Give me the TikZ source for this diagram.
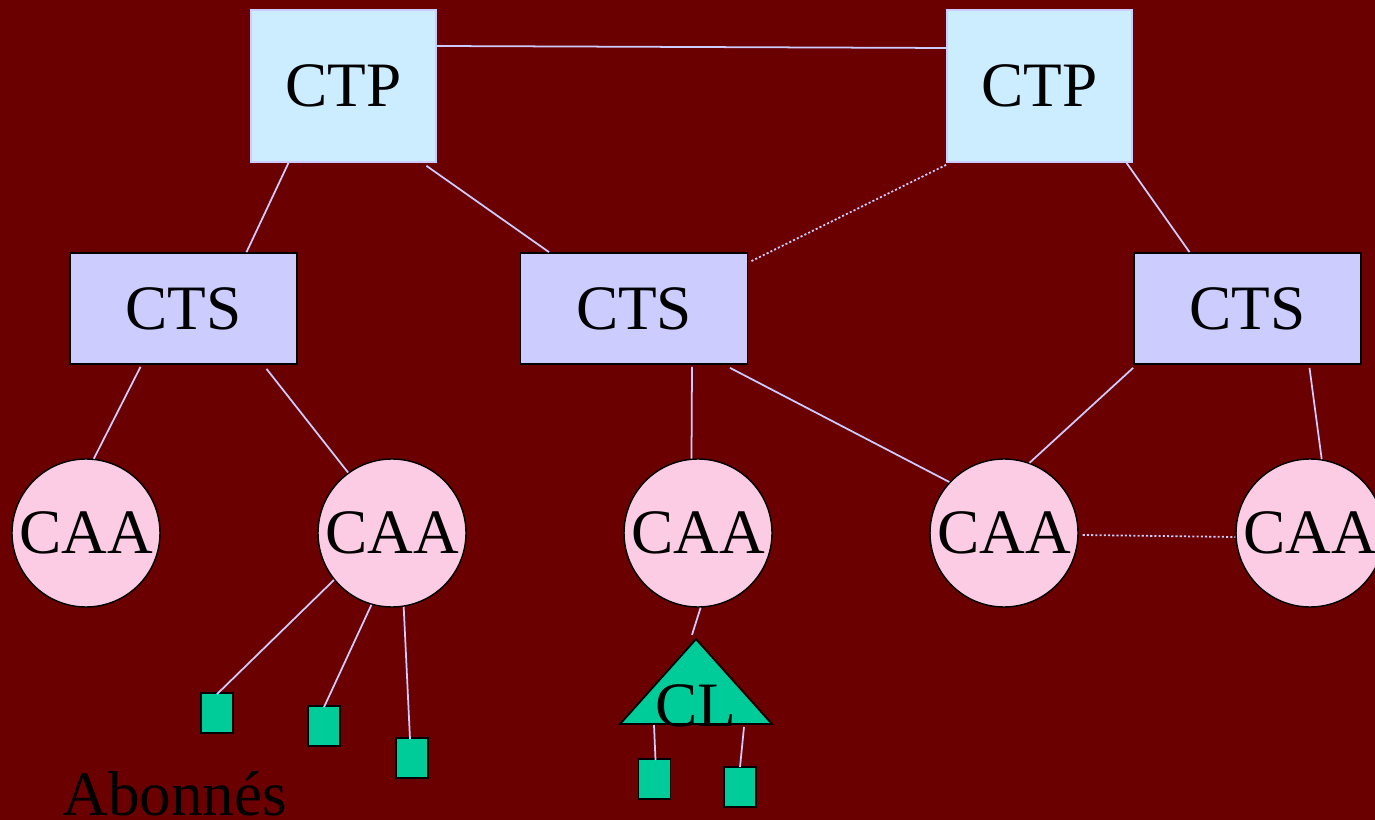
\documentclass[tikz,border=0pt]{standalone}
\usepackage{fontspec}
\setmainfont{Liberation Serif}
\usetikzlibrary{calc,shapes.geometric}
\definecolor{bgred}{RGB}{107,0,0}
\definecolor{ctpfill}{RGB}{204,236,255}
\definecolor{ctsfill}{RGB}{204,204,255}
\definecolor{caafill}{RGB}{252,204,228}
\definecolor{abgreen}{RGB}{0,204,153}
\definecolor{linkc}{RGB}{204,204,255}
\newcommand{\diagfont}{\fontsize{36}{40}\selectfont}

\begin{document}
\begin{tikzpicture}[x=0.02cm, y=-0.02cm,
    ctp/.style={draw=linkc, line width=1pt, fill=ctpfill, inner sep=0,
                minimum width=3.7cm, minimum height=3.04cm, font=\diagfont},
    cts/.style={draw=black, line width=1pt, fill=ctsfill, inner sep=0,
                minimum width=4.54cm, minimum height=2.22cm, font=\diagfont},
    caa/.style={circle, draw=black, line width=0.8pt, fill=caafill, inner sep=0,
                minimum size=2.96cm, font=\diagfont},
    abo/.style={draw=black, line width=1pt, fill=abgreen, inner sep=0,
                minimum width=0.64cm, minimum height=0.8cm},
    cltri/.style={isosceles triangle, isosceles triangle stretches,
                  shape border rotate=90, draw=black, line width=1pt, fill=abgreen,
                  inner sep=0, minimum width=3.04cm, minimum height=1.7cm},
    link/.style={draw=linkc, line width=1pt},
    dlink/.style={link, dash pattern=on 1.2pt off 1.2pt}
]
% background and page size
\fill[bgred] (0,0) rectangle (1375,820);
\useasboundingbox (0,0) rectangle (1375,820);

% Top level: CTP
\node[ctp] (CTP1) at (343.5,86) {CTP};
\node[ctp] (CTP2) at (1039.5,86) {CTP};

% Second level: CTS
\node[cts] (CTS1) at (183.5,308.5) {CTS};
\node[cts] (CTS2) at (634,308.5) {CTS};
\node[cts] (CTS3) at (1247.5,308.5) {CTS};

% Third level: CAA
\node[caa] (CAA1) at (86,533) {CAA};
\node[caa] (CAA2) at (392,533) {CAA};
\node[caa] (CAA3) at (698,533) {CAA};
\node[caa] (CAA4) at (1004,533) {CAA};
\node[caa] (CAA5) at (1310,533) {CAA};

% Concentrator CL
\node[cltri, anchor=south] (CL) at (696,725) {};
\node[font=\diagfont, anchor=base] (CLtext) at (696,726) {CL};

% Subscribers
\node[abo] (ab1) at (217,713) {};
\node[abo] (ab2) at (324,726) {};
\node[abo] (ab3) at (412,758) {};
\node[abo] (ab4) at (654.5,779) {};
\node[abo] (ab5) at (740,787) {};
\node[font=\diagfont, anchor=base west, inner sep=0] (Abo) at (62,815) {Abonnés};

% CTP links
\draw[link] ($(CTP1.east)+(0,-40)$) -- ($(CTP2.west)+(0,-38)$);
\draw[link] ($(CTP1.south)+(-55,0)$) -- ($(CTS1.north)+(63,0)$);
\draw[link] ($(CTP1.south)+(83,3)$) -- ($(CTS2.north)+(-85,0)$);
\draw[dlink] ($(CTP2.south west)+(0,2)$) -- ($(CTS2.north east)+(3,9)$);
\draw[link] ($(CTP2.south)+(87,0)$) -- ($(CTS3.north)+(-58,0)$);

% CTS links
\draw[link] ($(CTS1.south)+(-43,2)$) -- (CAA1.84);
\draw[link] ($(CTS1.south)+(83,4)$) -- (CAA2.126);
\draw[link] ($(CTS2.south)+(58,2)$) -- (CAA3.95);
\draw[link] ($(CTS2.south)+(96,3)$) -- (CAA4.137);
\draw[link] ($(CTS3.south west)+(0,3)$) -- (CAA4.70);
\draw[link] ($(CTS3.south)+(62,3)$) -- (CAA5.81);
\draw[dlink] ($(CAA4.east)+(4,2)$) -- ($(CAA5.west)+(0,4)$);

% CAA links
\draw[link] (CAA2.219) -- ($(ab1.north)+(0,2)$);
\draw[link] (CAA2.254) -- ($(ab2.north)+(0,2)$);
\draw[link] (CAA2.-81) -- ($(ab3.north)+(-2,2)$);
\draw[link] (CAA3.-88) -- ($(CL.north)+(-4,-2)$);
\draw[link] ($(CL.south)+(-42,0)$) -- ($(ab4.north)+(1,2)$);
\draw[link] ($(CL.south)+(48,2)$) -- ($(ab5.north)+(0,1)$);

\end{tikzpicture}
\end{document}
